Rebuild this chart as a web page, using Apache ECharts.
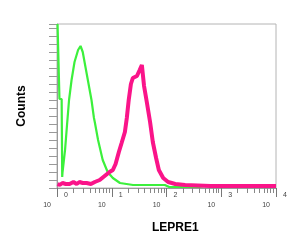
<!DOCTYPE html>
<html><head><meta charset="utf-8">
<script src="https://cdn.jsdelivr.net/npm/echarts@6/dist/echarts.min.js"></script>
<style>html,body{margin:0;padding:0;background:#fff}#c{width:300px;height:245px}</style>
</head><body><div id="c"></div>
<script>
// x values are log10 of fluorescence intensity (decades 10^0 .. 10^4)
const decades = [0, 1, 2, 3, 4];
const decadeBase = '10';
const xTitle = 'LEPRE1';
const yTitle = 'Counts';
const isotypeX = [0.01,0.035,0.045,0.085,0.095,0.10,0.147,0.183,0.22,0.266,0.32,0.385,0.43,0.47,0.54,0.63,0.675,0.69,0.75,0.835,0.925,1.02,1.15,1.39,1.6,1.8,1.97,2.05,2.6,2.77,2.82,3.1,3.22,3.26,3.5];
const isotypeY = [164,164,89,89,11,15,38,63,88,108,126,138,142,136,115,88,70,66,48,28,16,10,5,3,3,3,3,1,1,3,1,1,3,1,1];
const lepreX = [0.01,0.05,0.1,0.16,0.23,0.3,0.36,0.41,0.47,0.54,0.62,0.69,0.78,0.87,0.96,1.02,1.07,1.13,1.18,1.24,1.275,1.31,1.35,1.385,1.42,1.46,1.51,1.55,1.59,1.64,1.70,1.75,1.81,1.86,1.94,2.03,2.16,2.34,2.8,3.4,4];
const lepreY = [4,3,5,4,4,6,4,6,5,5,4,6,8,12,16,18,24,36,45,56,70,88,104,110,110,112,118,123,102,86,66,46,30,18,10,6,4,3,2,2,2];

const minorTicks = [];
for (let d = 0; d < 4; d++) for (let k = 2; k <= 9; k++) minorTicks.push(d + Math.log10(k));

const chart = echarts.init(document.getElementById('c'), null, {renderer: 'canvas'});
const baseX = {type: 'value', min: 0, max: 4, position: 'bottom', splitLine: {show: false}};
chart.setOption({
  animation: false,
  backgroundColor: '#fff',
  grid: {left: 57, right: 24, top: 24, bottom: 57, show: true, borderColor: '#b4b4b4', borderWidth: 1},
  xAxis: [
    Object.assign({}, baseX, {
      axisLine: {show: true, lineStyle: {color: '#9a9a9a', width: 1}},
      axisTick: {show: true, customValues: decades, length: 9, lineStyle: {color: '#777'}},
      axisLabel: {show: true, customValues: decades, formatter: v => String(Math.round(v)),
        fontSize: 7, color: '#444', fontFamily: 'Liberation Sans', margin: 4, align: 'left', padding: [0,0,0,7]}
    }),
    Object.assign({}, baseX, {
      axisLine: {show: false},
      axisTick: {show: true, customValues: minorTicks, length: 5, lineStyle: {color: '#888'}},
      axisLabel: {show: false}
    }),
    Object.assign({}, baseX, {
      axisLine: {show: false},
      axisTick: {show: false},
      axisLabel: {show: true, customValues: decades, formatter: () => decadeBase,
        fontSize: 7, color: '#444', fontFamily: 'Liberation Sans', margin: 14, align: 'right', padding: [0,6,0,0]}
    })
  ],
  yAxis: {
    type: 'value', min: 0, max: 164, interval: 8,
    name: yTitle, nameLocation: 'middle', nameGap: 29, nameRotate: 90,
    nameTextStyle: {fontSize: 12, fontWeight: 'bold', color: '#000', fontFamily: 'Liberation Sans'},
    axisLine: {show: true, lineStyle: {color: '#9a9a9a'}},
    axisTick: {show: true, length: 8, lineStyle: {color: '#999'}},
    axisLabel: {show: false},
    splitLine: {show: false}
  },
  graphic: [{type: 'text', left: 152, top: 222, style: {text: xTitle, fontSize: 12, fontWeight: 'bold', fill: '#000', fontFamily: 'Liberation Sans'}}],
  series: [
    {type: 'line', xAxisIndex: 0, data: isotypeX.map((x, i) => [x, isotypeY[i]]), showSymbol: false,
     lineStyle: {color: '#3cf03c', width: 2.2}, z: 2},
    {type: 'line', xAxisIndex: 0, data: lepreX.map((x, i) => [x, lepreY[i]]), showSymbol: false,
     lineStyle: {color: '#fa1489', width: 4}, z: 3}
  ]
});
</script></body></html>
